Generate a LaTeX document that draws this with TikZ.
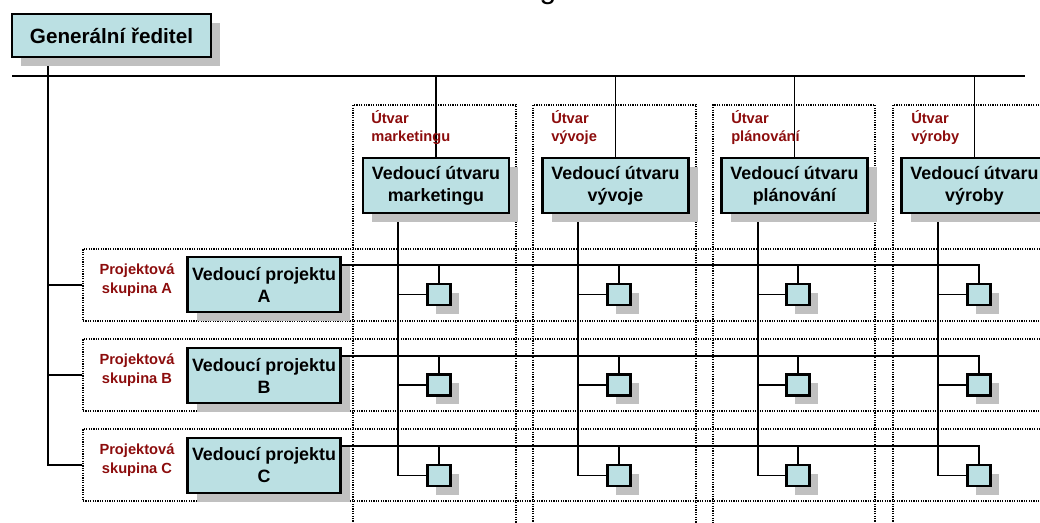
\documentclass[tikz,border=0pt]{standalone}
\usepackage{fontspec}
\setmainfont{Liberation Sans}
\usetikzlibrary{shadows}
\definecolor{boxfill}{RGB}{187,224,227}
\definecolor{shadowgray}{RGB}{192,192,192}
\definecolor{labelred}{RGB}{140,12,12}
\pgfdeclarelayer{background}
\pgfsetlayers{background,main}
\begin{document}
\begin{tikzpicture}[x=0.75pt,y=-0.75pt,
  bigbox/.style={draw=black, line width=1.7pt, fill=boxfill, inner sep=0pt, align=center,
    font=\bfseries\fontsize{13.4}{16.5}\selectfont,
    general shadow={fill=shadowgray, shadow xshift=6.75pt, shadow yshift=-6.75pt}},
  smallbox/.style={draw=black, line width=2pt, fill=boxfill, inner sep=0pt,
    minimum width=17.25pt, minimum height=15.75pt,
    general shadow={fill=shadowgray, shadow xshift=6.5pt, shadow yshift=-6.5pt}},
  dotbox/.style={draw=black, line width=0.9pt, dash pattern=on 0.9pt off 0.9pt, inner sep=0pt},
  redlabel/.style={text=labelred, font=\bfseries\fontsize{11}{13.8}\selectfont, inner sep=0pt},
  mainline/.style={line width=1.5pt},
  conn/.style={line width=1pt}
]
\useasboundingbox (0,0) rectangle (1040,522);

% cut-off title
\node[anchor=base, inner sep=0pt, font=\fontsize{22.5}{27}\selectfont] (title) at (548,-2) {g};

% dotted department and group frames
\node[dotbox, minimum width=122.25pt, minimum height=318.75pt] (dM) at (434.5,317.5) {};
\node[dotbox, minimum width=122.25pt, minimum height=318.75pt] (dV) at (614.5,317.5) {};
\node[dotbox, minimum width=121.5pt, minimum height=318.75pt] (dP) at (794,317.5) {};
\node[dotbox, minimum width=122.25pt, minimum height=318.75pt] (dY) at (974.5,317.5) {};
\node[dotbox, minimum width=725.25pt, minimum height=54pt] (grpA) at (566.5,285) {};
\node[dotbox, minimum width=725.25pt, minimum height=54pt] (grpB) at (566.5,375) {};
\node[dotbox, minimum width=725.25pt, minimum height=54pt] (grpC) at (566.5,465) {};

% labels
\node[redlabel, anchor=north west, align=left] (lM) at (371,110) {Útvar\\marketingu};
\node[redlabel, anchor=north west, align=left] (lV) at (551,110) {Útvar\\vývoje};
\node[redlabel, anchor=north west, align=left] (lP) at (731,110) {Útvar\\plánování};
\node[redlabel, anchor=north west, align=left] (lY) at (911,110) {Útvar\\výroby};
\node[redlabel, align=center] (lA) at (137,280) {Projektová\\skupina A};
\node[redlabel, align=center] (lB) at (137,370) {Projektová\\skupina B};
\node[redlabel, align=center] (lC) at (137,460) {Projektová\\skupina C};

% boxes
\node[bigbox, minimum width=149.25pt, minimum height=32.25pt, font=\bfseries\fontsize{15.5}{18}\selectfont] (gr) at (111.5,35.5) {Generální ředitel};
\node[bigbox, minimum width=109.5pt, minimum height=41.25pt] (dhM) at (436,185.5) {Vedoucí útvaru\\marketingu};
\node[bigbox, minimum width=109.5pt, minimum height=41.25pt] (dhV) at (615.5,185.5) {Vedoucí útvaru\\vývoje};
\node[bigbox, minimum width=109.5pt, minimum height=41.25pt] (dhP) at (794.5,185.5) {Vedoucí útvaru\\plánování};
\node[bigbox, minimum width=109.5pt, minimum height=41.25pt] (dhY) at (974.5,185.5) {Vedoucí útvaru\\výroby};
\node[bigbox, minimum width=114.75pt, minimum height=41.25pt] (pA) at (264,284.5) {Vedoucí projektu\\A};
\node[bigbox, minimum width=114.75pt, minimum height=41.25pt] (pB) at (264,375.5) {Vedoucí projektu\\B};
\node[bigbox, minimum width=114.75pt, minimum height=41.25pt] (pC) at (264,465.5) {Vedoucí projektu\\C};

\foreach \c/\x in {M/439,V/619,P/798,Y/979}
  \foreach \r/\y in {A/294.5,B/385,C/475.5}
    \node[smallbox] (s-\c-\r) at (\x,\y) {};

\begin{pgfonlayer}{background}
% top bus
\coordinate (tl) at (12,76);
\coordinate (tr) at (1025,76);
\draw[mainline] (tl) -- (tr);
\foreach \n in {dhM,dhV,dhP,dhY}
  \draw[conn] (\n.north) -- (\n.north |- tl);
% spine to project groups
\coordinate (spine) at (48,0);
\draw[mainline] (gr.south -| spine) |- (grpC.west);
\draw[conn] (spine |- grpA.west) -- (grpA.west);
\draw[mainline] (spine |- grpB.west) -- (grpB.west);
% project lines
\foreach \r in {A,B,C} {
  \coordinate (h\r) at ([yshift=-6.75pt]p\r.north east);
  \draw[conn] (h\r) -| (s-Y-\r.north);
  \foreach \c in {M,V,P}
    \draw[conn] (s-\c-\r.north) -- (s-\c-\r.north |- h\r);
}
% department lines
\foreach \c/\x in {M/398,V/578,P/758,Y/938} {
  \coordinate (v\c) at (\x,0);
  \draw[conn] (dh\c.south -| v\c) |- (s-\c-C.west);
  \draw[conn] (v\c |- s-\c-A.west) -- (s-\c-A.west);
  \draw[conn] (v\c |- s-\c-B.west) -- (s-\c-B.west);
}
\end{pgfonlayer}
\end{tikzpicture}
\end{document}
